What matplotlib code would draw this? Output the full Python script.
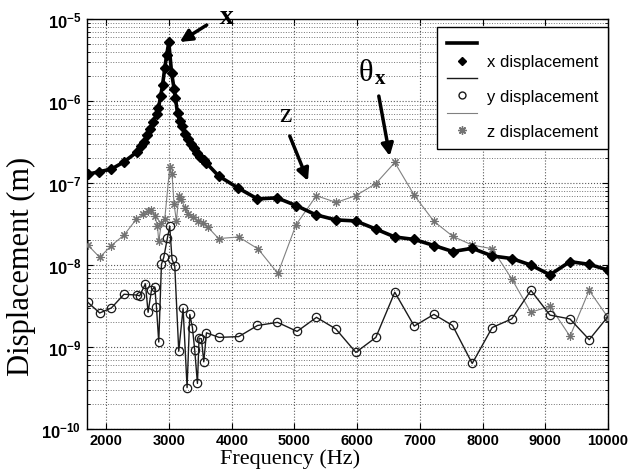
import matplotlib
matplotlib.use('Agg')
import matplotlib.pyplot as plt
from matplotlib.lines import Line2D

##################################################################
# Data (Hz, metres)

freq_x = [1700, 1880, 2080, 2275, 2490, 2550, 2600, 2650, 2700, 2750,
          2800, 2830, 2865, 2895, 2930, 2960, 2995, 3040, 3080, 3100,
          3135, 3170, 3200, 3250, 3300, 3350, 3400, 3450, 3500, 3550,
          3595, 3790, 4100, 4410, 4720, 5030, 5340, 5660, 5975, 6295,
          6600, 6910, 7225, 7525, 7835, 8155, 8465, 8770, 9075, 9395,
          9700, 10000]
disp_x = [1.28e-7, 1.37e-7, 1.48e-7, 1.8e-7, 2.4e-7, 2.8e-7, 3.2e-7, 3.8e-7,
          4.6e-7, 5.6e-7, 7.0e-7, 8.2e-7, 1.15e-6, 1.55e-6, 2.5e-6, 3.6e-6,
          5.2e-6, 2.2e-6, 1.4e-6, 1.09e-6, 7.1e-7, 5.7e-7, 4.9e-7, 4.0e-7,
          3.4e-7, 3.0e-7, 2.65e-7, 2.35e-7, 2.1e-7, 1.9e-7, 1.75e-7, 1.22e-7,
          8.7e-8, 6.4e-8, 6.6e-8, 5.3e-8, 4.1e-8, 3.55e-8, 3.45e-8, 2.75e-8,
          2.2e-8, 2.05e-8, 1.73e-8, 1.46e-8, 1.6e-8, 1.29e-8, 1.2e-8, 1.0e-8,
          7.6e-9, 1.1e-8, 1.02e-8, 8.7e-9]

freq_y = [1705, 1893, 2080, 2281, 2488, 2530, 2622, 2665, 2718, 2771,
          2798, 2835, 2878, 2915, 2973, 3010, 3047, 3090, 3154, 3223,
          3287, 3330, 3372, 3409, 3452, 3478, 3516, 3553, 3596, 3797,
          4111, 4410, 4729, 5042, 5351, 5660, 5979, 6298, 6600, 6910,
          7224, 7522, 7835, 8154, 8464, 8772, 9075, 9394, 9702, 10000]
disp_y = [3.5e-9, 2.6e-9, 3.0e-9, 4.4e-9, 4.3e-9, 4.2e-9, 5.9e-9, 2.65e-9,
          4.9e-9, 5.4e-9, 3.1e-9, 1.15e-9, 1.02e-8, 1.24e-8, 2.14e-8, 2.95e-8,
          1.17e-8, 9.8e-9, 8.9e-10, 2.97e-9, 3.2e-10, 2.5e-9, 1.73e-9, 9.1e-10,
          3.6e-10, 1.28e-9, 1.26e-9, 6.6e-10, 1.49e-9, 1.31e-9, 1.34e-9, 1.83e-9,
          2.0e-9, 1.55e-9, 2.3e-9, 1.66e-9, 8.6e-10, 1.31e-9, 4.66e-9, 1.8e-9,
          2.5e-9, 1.83e-9, 6.3e-10, 1.73e-9, 2.2e-9, 4.9e-9, 2.45e-9, 2.2e-9,
          1.23e-9, 2.35e-9]

freq_z = [1705, 1893, 2080, 2281, 2479, 2584, 2664, 2718, 2771, 2814,
          2835, 2878, 2930, 3010, 3047, 3079, 3117, 3154, 3197, 3250,
          3302, 3382, 3462, 3542, 3622, 3790, 4110, 4420, 4735, 5025,
          5350, 5665, 5975, 6295, 6600, 6910, 7225, 7525, 7835, 8155,
          8465, 8770, 9075, 9395, 9700, 10000]
disp_z = [1.75e-8, 1.24e-8, 1.73e-8, 2.32e-8, 3.63e-8, 4.2e-8, 4.6e-8, 4.7e-8,
          4.0e-8, 3.0e-8, 1.94e-8, 3.3e-8, 3.6e-8, 1.55e-7, 1.28e-7, 5.5e-8,
          3.45e-8, 7.0e-8, 6.3e-8, 5.0e-8, 4.2e-8, 3.8e-8, 3.45e-8, 3.3e-8,
          2.88e-8, 2.1e-8, 2.2e-8, 1.57e-8, 7.9e-9, 3.1e-8, 7.0e-8, 5.8e-8,
          7.0e-8, 9.8e-8, 1.78e-7, 7.1e-8, 3.4e-8, 2.24e-8, 1.75e-8, 1.58e-8,
          6.8e-9, 2.65e-9, 3.15e-9, 1.35e-9, 4.9e-9, 2.3e-9]

x_ticks = [2000, 3000, 4000, 5000, 6000, 7000, 8000, 9000, 10000]
legend_labels = ['x displacement', 'y displacement', 'z displacement']

##################################################################
# Figure

plt.rcParams['font.family'] = ['Liberation Sans', 'DejaVu Sans']

fig = plt.figure(figsize=(6.33, 4.77), dpi=100)
ax = fig.add_axes([0.1374, 0.0985, 0.823, 0.8595])

ax.plot(freq_z, disp_z, color='0.5', lw=0.8, marker=(8, 2, 0), ms=6,
        mec='0.45', mew=0.8, zorder=3)
ax.plot(freq_y, disp_y, color='0.1', lw=1.0, marker='o', ms=6,
        mfc='none', mec='0.1', mew=0.9, zorder=4)
ax.plot(freq_x, disp_x, color='black', lw=2.6, marker='D', ms=5,
        mfc='black', mec='black', zorder=5)

ax.set_yscale('log')
ax.set_xlim(1690, 10000)
ax.set_ylim(1e-10, 1e-5)
ax.set_xticks(x_ticks)
ax.set_xticklabels([str(t) for t in x_ticks])

ax.grid(True, which='major', axis='both', ls=':', lw=0.8, color='0.35')
ax.grid(True, which='minor', axis='y', ls=':', lw=0.7, color='0.45')
ax.tick_params(which='both', direction='in', top=True, right=True)
ax.tick_params(which='major', length=4)
ax.tick_params(which='minor', length=2)
ax.tick_params(axis='x', labelsize=10.5, pad=3)
ax.tick_params(axis='y', labelsize=12, pad=4)
for lab in ax.get_xticklabels() + ax.get_yticklabels():
    lab.set_fontweight('bold')
for spine in ax.spines.values():
    spine.set_linewidth(1.0)

ax.set_xlabel('Frequency (Hz)', family='Liberation Serif', fontsize=16)
ax.xaxis.set_label_coords(0.39, -0.048)
ax.set_ylabel('Displacement (m)', family='Liberation Serif', fontsize=22)
ax.yaxis.set_label_coords(-0.098, 0.40)

# Arrows and labels for the peaks
arrow = dict(arrowstyle='-|>', lw=2.5, color='black', mutation_scale=18,
             shrinkA=0, shrinkB=0)
ax.annotate('', xy=(3170, 5.25e-6), xytext=(3600, 8.45e-6),
            arrowprops=arrow, annotation_clip=False)
ax.text(3920, 1.07e-5, 'x', family='Liberation Serif', fontsize=20,
        fontweight='bold', ha='center', va='center', clip_on=False)
ax.annotate('', xy=(5215, 1.06e-7), xytext=(4925, 3.74e-7),
            arrowprops=arrow)
ax.text(4850, 6.9e-7, 'z', family='Liberation Serif', fontsize=20,
        ha='center', va='center')
ax.annotate('', xy=(6520, 2.13e-7), xytext=(6345, 1.15e-6),
            arrowprops=arrow)
ax.text(6140, 2.2e-6, 'θ', family='Liberation Serif', fontsize=22,
        ha='center', va='center')
ax.text(6370, 1.9e-6, 'x', family='Liberation Serif', fontsize=15,
        fontweight='bold', ha='center', va='center')

# MATLAB style legend: line rows above marker rows
handles = [
    Line2D([], [], color='black', lw=2.6),
    Line2D([], [], ls='none', marker='D', ms=4, color='black'),
    Line2D([], [], color='0.1', lw=1.0),
    Line2D([], [], ls='none', marker='o', ms=5, mfc='none', mec='0.1'),
    Line2D([], [], color='0.5', lw=0.8),
    Line2D([], [], ls='none', marker=(8, 2, 0), ms=6, mec='0.45'),
]
labels = [' ', legend_labels[0], ' ', legend_labels[1], ' ', legend_labels[2]]
leg = ax.legend(handles, labels, loc='upper right',
                bbox_to_anchor=(1.0, 1 - 8 / 410), borderaxespad=0,
                prop={'size': 12}, handlelength=1.8, handletextpad=0.6,
                labelspacing=0.14, borderpad=0.6,
                fancybox=False, framealpha=1, edgecolor='black')
leg.get_frame().set_linewidth(1.0)

plt.savefig('out.png', dpi=100)
